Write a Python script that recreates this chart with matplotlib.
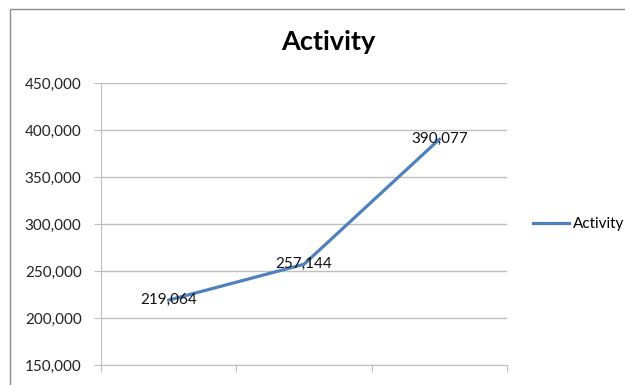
import matplotlib.pyplot as plt
from matplotlib.patches import Rectangle

# Activity totals per period
categories = ["1", "2", "3"]
activity = [219064, 257144, 390077]
y_ticks = [150000, 200000, 250000, 300000, 350000, 400000, 450000]

plt.rcParams['font.family'] = ['Lato', 'DejaVu Sans']

fig = plt.figure(figsize=(6.25, 3.85), dpi=100)

# chart border
fig.patches.append(Rectangle((10 / 625, -0.1), 1.0, 1 - 9 / 385 + 0.1,
                             transform=fig.transFigure, fill=False,
                             edgecolor='#8c8c8c', linewidth=1.0))

ax = fig.add_axes([101 / 625, 20 / 385, 406 / 625, 282 / 385])

x = range(len(activity))
line, = ax.plot(x, activity, color='#4F81BD', linewidth=2.3, label='Activity')
for xi, v in zip(x, activity):
    ax.text(xi, v, f"{v:,}", ha='center', va='center', fontsize=11, color='#111111')

ax.set_xlim(-0.5, len(activity) - 0.5)
ax.set_ylim(150000, 450000)
ax.set_yticks(y_ticks)
ax.set_yticklabels([f"{t:,}" for t in y_ticks], fontsize=11, color='#222222')
ax.set_xticks([-0.5, 0.5, 1.5, 2.5])
ax.set_xticklabels([])
ax.tick_params(axis='x', length=5, color='#bfbfbf', direction='out')
ax.tick_params(axis='y', length=5, color='#bfbfbf', direction='out', pad=9)
ax.yaxis.grid(True, color='#bfbfbf', linewidth=1.0)
ax.set_axisbelow(True)
for side in ['top', 'right']:
    ax.spines[side].set_visible(False)
ax.spines['left'].set_color('#bfbfbf')
ax.spines['bottom'].set_color('#bfbfbf')

fig.text(328 / 625, 1 - 42 / 385, 'Activity', ha='center', va='center',
         fontsize=19.5, fontweight='bold')

fig.legend(handles=[line], loc='center left', bbox_to_anchor=(519 / 625, 1 - 224 / 385),
           frameon=False, fontsize=11, handlelength=2.4, handletextpad=0.2)

fig.savefig('out.png', dpi=100)
